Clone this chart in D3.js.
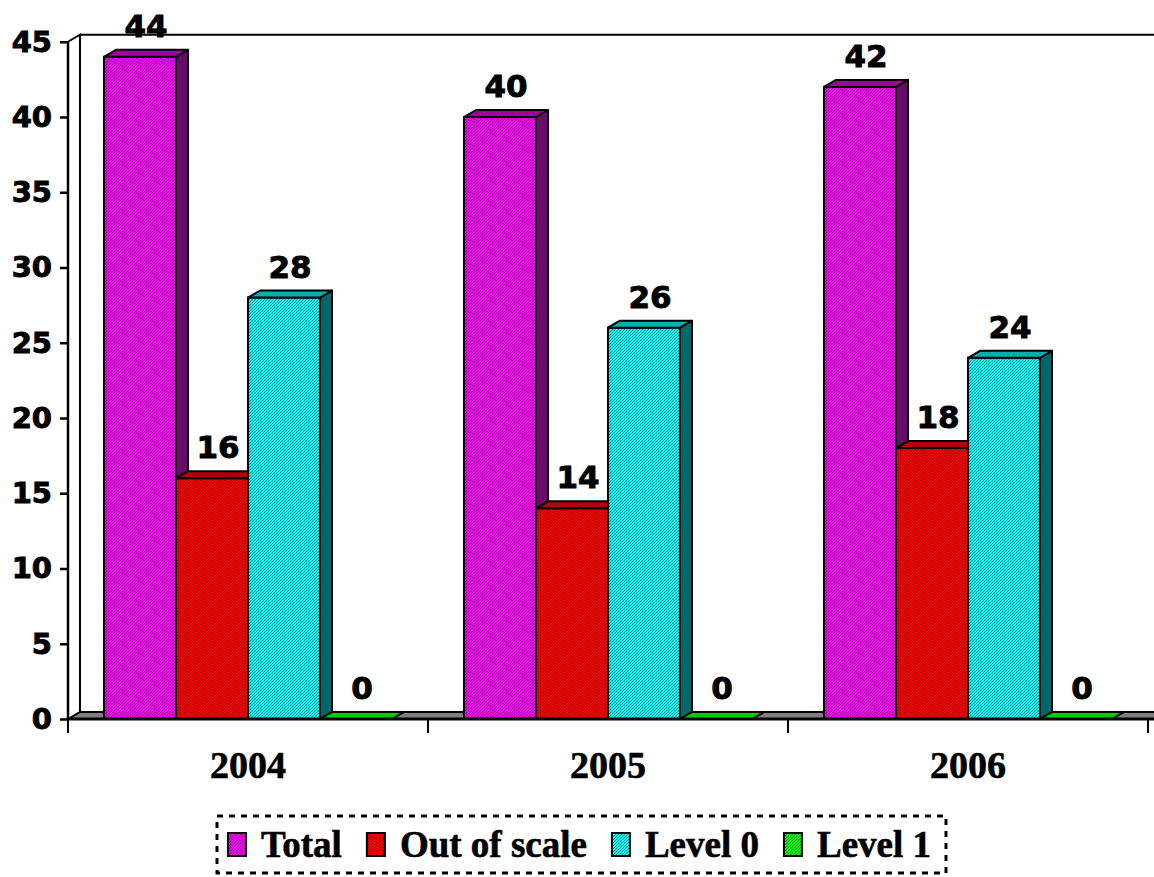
<!DOCTYPE html>
<html>
<head>
<meta charset="utf-8">
<script src="https://cdn.jsdelivr.net/npm/d3@7"></script>
<style>
  body { margin: 0; background: #fff; }
  svg { display: block; }
</style>
</head>
<body>
<div id="chart"></div>
<script>
// data
var years = ["2004", "2005", "2006"];
var seriesNames = ["Total", "Out of scale", "Level 0", "Level 1"];
var total = [44, 40, 42];
var outOfScale = [16, 14, 18];
var level0 = [28, 26, 24];
var level1 = [0, 0, 0];
var yTicks = [0, 5, 10, 15, 20, 25, 30, 35, 40, 45];

var seriesValues = [total, outOfScale, level0, level1];

// colours: front pattern (base + dither), top, side
var colors = [
  {base: "#ff00ff", dot: "#800080", top: "#a000a0", side: "#6a0a6a"},
  {base: "#ff0000", dot: "#990000", top: "#b40000", side: "#7a0000"},
  {base: "#00ffff", dot: "#008080", top: "#00b0b0", side: "#006868"},
  {base: "#00ff00", dot: "#008800", top: "#00cc00", side: "#006600"}
];

var W = 1154, H = 877;
var dx = 12, dy = 7;
var left = 68, right = 1148, bottom = 719;

var svg = d3.select("#chart")
  .append("svg")
    .attr("width", W)
    .attr("height", H);

// fill patterns
var defs = svg.append("defs");
colors.forEach(function(c, i) {
  var p = defs.append("pattern")
    .attr("id", "pat" + i)
    .attr("width", 3).attr("height", 3)
    .attr("patternUnits", "userSpaceOnUse");
  p.append("rect").attr("width", 3).attr("height", 3).attr("fill", c.base);
  p.append("rect").attr("x", 0).attr("y", 0).attr("width", 1).attr("height", 1).attr("fill", c.dot);
  p.append("rect").attr("x", 2).attr("y", 1).attr("width", 1).attr("height", 1).attr("fill", c.dot);
  p.append("rect").attr("x", 1).attr("y", 2).attr("width", 1).attr("height", 1).attr("fill", c.dot);
});

// scales
var y = d3.scaleLinear()
  .domain([0, 45])
  .range([bottom, bottom - 45 * 15.05]);

var x0 = d3.scaleBand()
  .domain(years)
  .range([left, right]);

var x1 = d3.scaleBand()
  .domain(seriesNames)
  .range([x0.bandwidth() / 10, x0.bandwidth() * 9 / 10]);

// back wall + floor
var wallTop = y(45) - dy;
svg.append("polygon")
  .attr("points", [[left, bottom], [left + dx, bottom - dy], [W + 20, bottom - dy], [W + 20, bottom]].join(" "))
  .attr("fill", "#808080")
  .attr("stroke", "#000")
  .attr("stroke-width", 2);
svg.append("path")
  .attr("d", "M" + left + "," + y(45) + "L" + (left + dx) + "," + wallTop +
             "L" + (left + dx) + "," + (bottom - dy) +
             "M" + (left + dx) + "," + wallTop + "L" + (W + 20) + "," + wallTop)
  .attr("fill", "none")
  .attr("stroke", "#000")
  .attr("stroke-width", 2);

// bars
var groups = svg.append("g")
  .selectAll("g")
  .data(years)
  .enter()
  .append("g")
    .attr("transform", function(d) { return "translate(" + x0(d) + ",0)"; });

seriesNames.forEach(function(name, si) {
  groups.each(function(yr, yi) {
    var g = d3.select(this);
    var v = seriesValues[si][yi];
    var bx = x1(name), bw = x1.bandwidth(), ty = y(v);
    // side
    g.append("polygon")
      .attr("points", [[bx + bw, ty], [bx + bw + dx, ty - dy], [bx + bw + dx, bottom - dy], [bx + bw, bottom]].join(" "))
      .attr("fill", colors[si].side)
      .attr("stroke", "#000").attr("stroke-width", 2).attr("stroke-linejoin", "round");
    // front
    if (v > 0) {
      g.append("rect")
        .attr("x", bx).attr("y", ty)
        .attr("width", bw).attr("height", bottom - ty)
        .attr("fill", "url(#pat" + si + ")")
        .attr("stroke", "#000").attr("stroke-width", 2);
    }
    // top
    g.append("polygon")
      .attr("points", [[bx, ty], [bx + dx, ty - dy], [bx + bw + dx, ty - dy], [bx + bw, ty]].join(" "))
      .attr("fill", colors[si].top)
      .attr("stroke", "#000").attr("stroke-width", 2).attr("stroke-linejoin", "round");
  });
});

// value labels
seriesNames.forEach(function(name, si) {
  groups.append("text")
    .attr("x", x1(name) + x1.bandwidth() / 2 + dx / 2)
    .attr("y", function(d, i) { return y(seriesValues[si][i]) - dy - 13; })
    .attr("text-anchor", "middle")
    .style("font-family", "'DejaVu Sans', Verdana, sans-serif")
    .style("font-weight", "bold")
    .style("font-size", "31px")
    .style("stroke", "#000")
    .style("stroke-width", "0.9px")
    .text(function(d, i) { return seriesValues[si][i]; });
});

// Y axis
var yAxis = svg.append("g")
  .attr("transform", "translate(" + left + ",0)")
  .call(d3.axisLeft(y).tickValues(yTicks).tickSize(8).tickPadding(8));
yAxis.select(".domain").attr("stroke-width", 2.5).attr("d", "M0," + y(45) + "V" + bottom);
yAxis.selectAll(".tick line").attr("stroke-width", 2.5);
yAxis.selectAll(".tick text")
  .style("font-family", "'DejaVu Sans', Verdana, sans-serif")
  .style("font-weight", "bold")
  .style("font-size", "29px")
  .style("stroke", "#000")
  .style("stroke-width", "0.9px")
  .attr("fill", "#000");

// X axis
svg.append("line")
  .attr("x1", left).attr("x2", W + 20)
  .attr("y1", bottom).attr("y2", bottom)
  .attr("stroke", "#000").attr("stroke-width", 3);
var bounds = years.map(function(d) { return x0(d); }).concat([right]);
svg.append("g")
  .selectAll("line")
  .data(bounds)
  .enter()
  .append("line")
    .attr("x1", function(d) { return d; }).attr("x2", function(d) { return d; })
    .attr("y1", bottom).attr("y2", bottom + 14)
    .attr("stroke", "#000").attr("stroke-width", 2);
svg.append("g")
  .selectAll("text")
  .data(years)
  .enter()
  .append("text")
    .attr("x", function(d) { return x0(d) + x0.bandwidth() / 2; })
    .attr("y", bottom + 59)
    .attr("text-anchor", "middle")
    .style("font-family", "'Liberation Serif', 'Times New Roman', serif")
    .style("font-weight", "bold")
    .style("font-size", "38px")
    .style("stroke", "#000")
    .style("stroke-width", "0.6px")
    .text(function(d) { return d; });

// legend
var legend = svg.append("g");
var lx = 228, ly = 857;
seriesNames.forEach(function(name, si) {
  legend.append("rect")
    .attr("x", lx).attr("y", ly - 24)
    .attr("width", 18).attr("height", 23)
    .attr("fill", "url(#pat" + si + ")")
    .attr("stroke", "#000").attr("stroke-width", 2);
  var t = legend.append("text")
    .attr("x", lx + 33).attr("y", ly)
    .style("font-family", "'Liberation Serif', 'Times New Roman', serif")
    .style("font-weight", "bold")
    .style("font-size", "37px")
    .style("stroke", "#000")
    .style("stroke-width", "0.6px")
    .text(name);
  lx += 33 + t.node().getComputedTextLength() + 25;
});
svg.append("rect")
  .attr("x", 217).attr("y", 816)
  .attr("width", 729).attr("height", 57)
  .attr("fill", "none")
  .attr("stroke", "#000").attr("stroke-width", 3)
  .attr("stroke-dasharray", "6,6");
</script>
</body>
</html>
